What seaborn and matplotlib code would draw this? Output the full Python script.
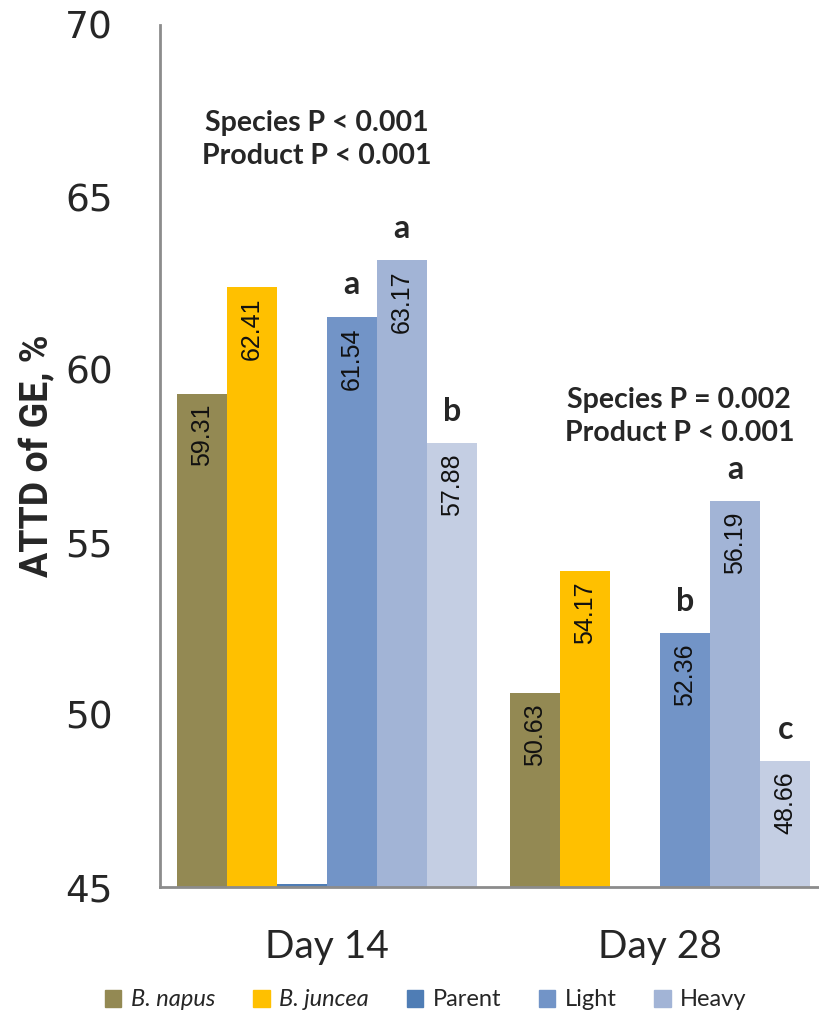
import numpy as np
import pandas as pd
import matplotlib
matplotlib.use("Agg")
import matplotlib.pyplot as plt
import seaborn as sns
from matplotlib.patches import Patch

# ---- data -------------------------------------------------------------
days = ["Day 14", "Day 28"]
series = ["B. napus", "B. juncea", "Parent", "Light", "Heavy", "Mix"]
napus = [59.31, 50.63]
juncea = [62.41, 54.17]
parent = [45.08, np.nan]
light = [61.54, 52.36]
heavy = [63.17, 56.19]
mix = [57.88, 48.66]
letters = {
    "Light": ["a", "b"],
    "Heavy": ["a", "a"],
    "Mix": ["b", "c"],
}
stats_d14 = "Species P < 0.001\nProduct P < 0.001"
stats_d28 = "Species P = 0.002\nProduct P < 0.001"
colors = ["#938953", "#FFC000", "#4F7DB5", "#7294C7", "#A2B4D6", "#C4CEE3"]

values = [napus, juncea, parent, light, heavy, mix]
rows = []
for s, vals in zip(series, values):
    for d, v in zip(days, vals):
        rows.append({"day": d, "series": s, "value": v})
df = pd.DataFrame(rows)

# ---- figure -----------------------------------------------------------
sns.set_theme(style="white")
plt.rcParams["font.family"] = ["Lato", "DejaVu Sans"]

fig = plt.figure(figsize=(8.19, 10.17), dpi=100)
ax = fig.add_axes([160 / 819, (1017 - 887) / 1017, 667 / 819, (887 - 25) / 1017])

sns.barplot(data=df, x="day", y="value", hue="series", order=days,
            hue_order=series, palette=colors, width=0.9, gap=0,
            linewidth=0, saturation=1, errorbar=None, legend=False, ax=ax)

ax.set_ylim(45, 70)
ax.set_xlim(-0.5, 1.5)
ax.set_yticks([45, 50, 55, 60, 65, 70])
ax.tick_params(axis="y", labelsize=27, length=0, pad=34)
ax.tick_params(axis="x", labelsize=28, length=0, pad=30)
for t in ax.get_yticklabels():
    t.set_fontfamily("DejaVu Sans")
ax.set_xlabel("")
ax.set_ylabel("ATTD of GE, %", fontsize=27, fontweight="bold",
              fontfamily="Roboto", labelpad=6)

for side in ["top", "right"]:
    ax.spines[side].set_visible(False)
for side in ["left", "bottom"]:
    ax.spines[side].set_color("#8C8C8C")
    ax.spines[side].set_linewidth(2)

# value labels and significance letters
for s, cont in zip(series, ax.containers):
    for bar in cont:
        h = bar.get_height()
        if not np.isfinite(h) or h < 46:
            continue
        xc = bar.get_x() + bar.get_width() / 2
        ax.text(xc, h - 0.3, f"{h:.2f}", rotation=90, ha="center", va="top",
                fontsize=18, fontfamily="Liberation Sans", color="#111111")
        if s in letters:
            idx = int(round(xc))
            ax.text(xc, h + 0.5, letters[s][idx], ha="center", va="bottom",
                    fontsize=23, fontweight="bold", fontfamily="Lato")

ax.text(-0.03, 66.69, stats_d14, ha="center", va="center", fontsize=20.5,
        fontweight="bold", linespacing=1.33)
ax.text(1.057, 58.65, stats_d28, ha="center", va="center", fontsize=20.5,
        fontweight="bold", linespacing=1.33)

# legend (first five series)
handles = [Patch(color=c, label=l) for c, l in zip(colors[:5], series[:5])]
leg = fig.legend(handles=handles, loc="center", bbox_to_anchor=(0.52, 1 - 1000 / 1017),
                 ncol=5, frameon=False, fontsize=17, handlelength=0.7,
                 handleheight=0.7, handletextpad=0.4, columnspacing=1.6)
for t in leg.get_texts()[:2]:
    t.set_fontstyle("italic")

fig.savefig("out.png", dpi=100)
